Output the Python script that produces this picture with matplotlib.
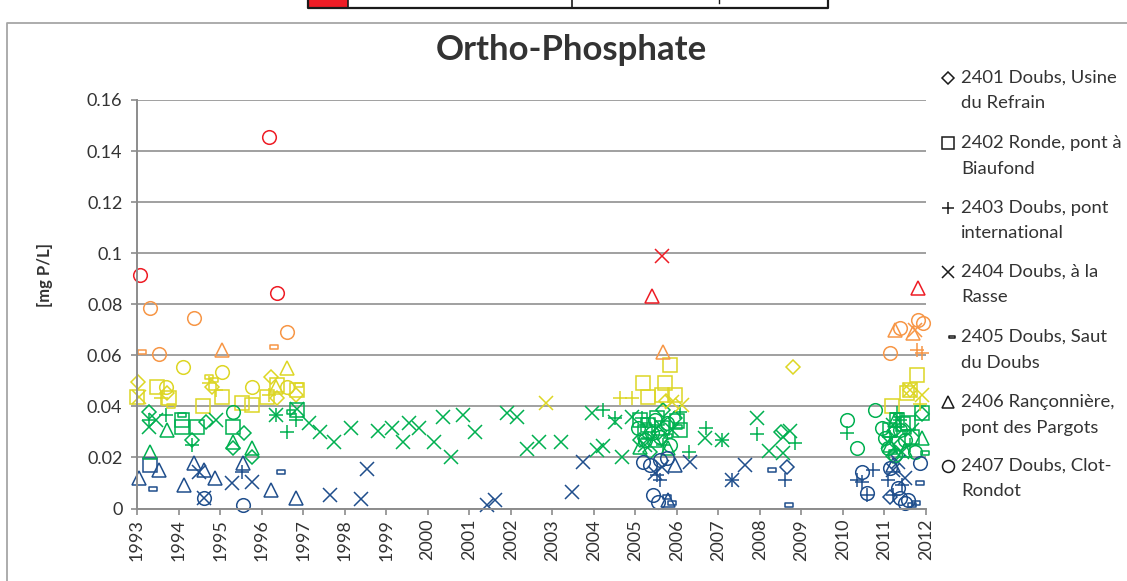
import matplotlib
matplotlib.use("Agg")
import matplotlib.pyplot as plt
from matplotlib.lines import Line2D
from matplotlib.patches import Rectangle
from matplotlib.path import Path

plt.rcParams['font.family'] = ['Lato', 'DejaVu Sans']

W, H = 1127, 581

# ---------------- data: ortho-phosphate [mg P/L] per station ----------------
s2401_year = [1993.02, 1993.72, 1993.29, 1994.66, 1994.33, 1994.81, 1995.58, 1995.31, 1995.77,
              1996.23, 1996.38, 1996.83,
              2005.75, 2005.11, 2005.35, 2005.54, 2005.66, 2005.95,
              2008.50, 2008.65, 2008.80,
              2011.62, 2011.91, 2011.25, 2011.37, 2011.20, 2011.13]
s2401_val = [0.0496, 0.0453, 0.0378, 0.0339, 0.0269, 0.0476, 0.0296, 0.0237, 0.0202,
             0.0516, 0.0433, 0.0445,
             0.0420, 0.0269, 0.0222, 0.0296, 0.0386, 0.0355,
             0.0300, 0.0163, 0.0555,
             0.0465, 0.0370, 0.0308, 0.0249, 0.0205, 0.0045]

s2402_year = [1993.31, 1993.00, 1993.48, 1993.77, 1994.09, 1994.09, 1994.45, 1994.59, 1995.05,
              1995.53, 1995.77, 1995.31, 1996.13, 1996.38, 1996.86, 1996.86,
              2005.83, 2005.18, 2005.71, 2005.30, 2005.64, 2005.95,
              2005.11, 2005.30, 2005.52, 2005.23, 2005.64, 2006.00, 2006.07,
              2011.78, 2011.55, 2011.62, 2011.18,
              2011.30, 2011.45, 2011.57, 2011.13, 2011.91, 2011.66]
s2402_val = [0.0171, 0.0437, 0.0476, 0.0433, 0.0347, 0.0320, 0.0320, 0.0402, 0.0437,
             0.0414, 0.0405, 0.0320, 0.0437, 0.0484, 0.0465, 0.0386,
             0.0563, 0.0492, 0.0492, 0.0437, 0.0445, 0.0445,
             0.0347, 0.0327, 0.0355, 0.0300, 0.0316, 0.0343, 0.0308,
             0.0524, 0.0453, 0.0465, 0.0402,
             0.0347, 0.0331, 0.0335, 0.0308, 0.0375, 0.0280]

s2403_year = [1993.58, 1993.29, 1993.70, 1994.33, 1994.74, 1994.90, 1995.53, 1996.18, 1996.35,
              1996.83, 1996.62,
              2004.22, 2004.62, 2004.91, 2004.50, 2005.30, 2005.66, 2006.07, 2005.15,
              2005.52, 2005.59, 2006.30, 2006.71,
              2007.08, 2007.33, 2007.93, 2008.60, 2008.85,
              2010.10, 2010.34, 2010.73, 2010.58, 2010.46,
              2011.78, 2011.91, 2011.86, 2011.13, 2011.37, 2011.62, 2011.30,
              2011.20, 2011.08, 2011.42]
s2403_val = [0.0433, 0.0347, 0.0367, 0.0249, 0.0492, 0.0465, 0.0143, 0.0445, 0.0367,
             0.0347, 0.0300,
             0.0386, 0.0433, 0.0433, 0.0355, 0.0276, 0.0249, 0.0378, 0.0355,
             0.0131, 0.0112, 0.0222, 0.0316,
             0.0269, 0.0112, 0.0290, 0.0112, 0.0257,
             0.0296, 0.0112, 0.0151, 0.0053, 0.0104,
             0.0622, 0.0610, 0.0410, 0.0280, 0.0347, 0.0249, 0.0375,
             0.0053, 0.0112, 0.0092]

s2404_year = [1993.05, 1993.29, 1993.46, 1994.90, 1994.50, 1994.62, 1995.29, 1995.77, 1996.35,
              1996.86, 1997.15, 1997.40, 1997.75, 1998.16, 1998.80, 1999.15, 1999.40, 1999.56,
              1999.78, 2000.16, 2000.38, 2000.57, 2000.84, 2001.15, 2001.90, 2002.14, 2002.38,
              2002.67, 2002.86, 2003.20, 2003.95, 2004.07,
              1998.55, 1997.65, 1998.40, 2001.44, 2001.63, 2003.73, 2003.47,
              2004.50, 2004.91, 2004.21, 2004.67, 2005.64, 2005.88, 2006.12, 2005.23, 2005.59,
              2005.88, 2006.31, 2005.47, 2005.64,
              2006.67, 2007.08, 2007.33, 2007.64, 2007.93, 2008.22, 2008.72, 2008.55, 2008.55,
              2011.74, 2011.62, 2011.90, 2011.08, 2011.42, 2011.66, 2011.20, 2011.20, 2011.50,
              2011.33]
s2404_val = [0.0437, 0.0320, 0.0347, 0.0347, 0.0143, 0.0041, 0.0100, 0.0104, 0.0367,
             0.0390, 0.0335, 0.0300, 0.0261, 0.0316, 0.0304, 0.0316, 0.0261, 0.0335,
             0.0316, 0.0261, 0.0359, 0.0202, 0.0367, 0.0300, 0.0375, 0.0359, 0.0233,
             0.0261, 0.0414, 0.0261, 0.0375, 0.0229,
             0.0155, 0.0053, 0.0037, 0.0014, 0.0033, 0.0182, 0.0065,
             0.0339, 0.0359, 0.0245, 0.0202, 0.0990, 0.0418, 0.0405, 0.0249, 0.0327,
             0.0308, 0.0182, 0.0139, 0.0163,
             0.0276, 0.0269, 0.0112, 0.0171, 0.0355, 0.0225, 0.0304, 0.0218, 0.0280,
             0.0700, 0.0465, 0.0445, 0.0260, 0.0222, 0.0308, 0.0327, 0.0151, 0.0120,
             0.0182]

s2405_year = [1993.12, 1993.39, 1993.82, 1994.09, 1994.74, 1994.86, 1996.30, 1996.47, 1996.91,
              1996.71,
              2005.27, 2005.78, 2006.02, 2005.88, 2005.76,
              2008.28, 2008.70,
              2011.33, 2011.55, 2011.98, 2011.20, 2011.86, 2011.66, 2011.76]
s2405_val = [0.0614, 0.0076, 0.0402, 0.0367, 0.0516, 0.0504, 0.0633, 0.0143, 0.0484,
             0.0378,
             0.0327, 0.0284, 0.0320, 0.0022, 0.0045,
             0.0151, 0.0014,
             0.0367, 0.0300, 0.0218, 0.0220, 0.0100, 0.0014, 0.0022]

s2406_year = [1995.05, 1996.62, 1993.72, 1993.31, 1995.31, 1995.77, 1996.35,
              1993.05, 1993.53, 1994.13, 1994.37, 1994.62, 1994.88, 1995.56, 1996.23, 1996.83,
              2005.66, 2005.41, 2005.11, 2005.78, 2005.47, 2005.95, 2005.78,
              2011.80, 2011.25, 2011.69, 2011.91, 2011.25, 2011.50, 2011.13, 2011.20]
s2406_val = [0.0622, 0.0551, 0.0308, 0.0222, 0.0261, 0.0237, 0.0476,
             0.0120, 0.0151, 0.0092, 0.0178, 0.0151, 0.0120, 0.0178, 0.0073, 0.0041,
             0.0614, 0.0831, 0.0241, 0.0237, 0.0269, 0.0171, 0.0033,
             0.0865, 0.0700, 0.0688, 0.0276, 0.0347, 0.0229, 0.0250, 0.0171]

s2407_year = [1993.07, 1996.18, 1996.38, 1993.31, 1994.37, 1993.53, 1996.62, 1994.11, 1995.05,
              1993.70, 1995.77, 1996.62, 1995.31, 1994.62, 1995.56,
              2005.06, 2005.23, 2005.39, 2005.59, 2005.76, 2005.83, 2005.47,
              2005.18, 2005.35, 2005.76, 2005.59, 2005.42, 2005.54,
              2010.10, 2010.34, 2010.77, 2010.46, 2010.58,
              2011.13, 2011.37, 2011.80, 2011.92,
              2011.01, 2011.08, 2011.25, 2011.50, 2011.74, 2011.37, 2010.94,
              2011.86, 2011.33, 2011.50, 2011.37, 2011.57, 2011.13]
s2407_val = [0.0916, 0.1457, 0.0845, 0.0786, 0.0747, 0.0606, 0.0692, 0.0555, 0.0535,
             0.0476, 0.0476, 0.0476, 0.0378, 0.0041, 0.0014,
             0.0316, 0.0269, 0.0296, 0.0280, 0.0335, 0.0249, 0.0347,
             0.0182, 0.0171, 0.0196, 0.0190, 0.0053, 0.0025,
             0.0347, 0.0237, 0.0386, 0.0143, 0.0061,
             0.0610, 0.0708, 0.0739, 0.0727,
             0.0276, 0.0237, 0.0210, 0.0269, 0.0222, 0.0308, 0.0316,
             0.0178, 0.0080, 0.0022, 0.0041, 0.0033, 0.0159]

station_labels = ["2401 Doubs, Usine\ndu Refrain",
                  "2402 Ronde, pont à\nBiaufond",
                  "2403 Doubs, pont\ninternational",
                  "2404 Doubs, à la\nRasse",
                  "2405 Doubs, Saut\ndu Doubs",
                  "2406 Rançonnière,\npont des Pargots",
                  "2407 Doubs, Clot-\nRondot"]

year_ticks = list(range(1993, 2013))
value_ticks = [0, 0.02, 0.04, 0.06, 0.08, 0.1, 0.12, 0.14, 0.16]
value_tick_labels = ["0", "0.02", "0.04", "0.06", "0.08", "0.1", "0.12", "0.14", "0.16"]

# quality classes (upper bounds) and their colours
class_bounds = [0.02, 0.04, 0.06, 0.08]
class_colors = ["#1F4E8C", "#00B050", "#DDD624", "#F79646", "#EE1C25"]

# ---------------- styling ----------------
dash_marker = Path([(-1, -0.42), (1, -0.42), (1, 0.42), (-1, 0.42), (-1, -0.42)],
                   [Path.MOVETO, Path.LINETO, Path.LINETO, Path.LINETO, Path.CLOSEPOLY])
series = [
    (s2401_year, s2401_val, "D", 7.0),
    (s2402_year, s2402_val, "s", 9.8),
    (s2403_year, s2403_val, "+", 10.0),
    (s2404_year, s2404_val, "x", 9.4),
    (s2405_year, s2405_val, dash_marker, 5.8),
    (s2406_year, s2406_val, "^", 10.0),
    (s2407_year, s2407_val, "o", 9.8),
]


def value_color(v):
    for bound, col in zip(class_bounds, class_colors):
        if v < bound:
            return col
    return class_colors[-1]


def fx(px):
    return px / W


def fy(py):
    return 1 - py / H


fig = plt.figure(figsize=(W / 100, H / 100), dpi=100)

# outer chart frame (left and top edges visible)
fig.add_artist(Line2D([fx(7), fx(7), fx(1127)], [fy(600), fy(23), fy(23)],
                      transform=fig.transFigure, color="#A6A6A6", lw=1.3))

# strip of the table above the chart
fig.add_artist(Rectangle((fx(308), fy(7.5)), fx(40), 10 / H, transform=fig.transFigure,
                         fc="#EE1C25", ec="none"))
fig.add_artist(Line2D([fx(308), fx(308), fx(828), fx(828)], [fy(-2), fy(8), fy(8), fy(-2)],
                      transform=fig.transFigure, color="#1a1a1a", lw=1.6))
fig.add_artist(Line2D([fx(348), fx(348)], [fy(-2), fy(8)], transform=fig.transFigure,
                      color="#1a1a1a", lw=1.2))
fig.add_artist(Line2D([fx(572), fx(572)], [fy(-2), fy(8)], transform=fig.transFigure,
                      color="#1a1a1a", lw=1.2))
fig.add_artist(Line2D([fx(719), fx(719)], [fy(-2), fy(3)], transform=fig.transFigure,
                      color="#1a1a1a", lw=1.0))

ax = fig.add_axes([fx(137), fy(508.5), fx(926 - 137), (508.5 - 100) / H])

for years, vals, marker, ms in series:
    groups = {}
    for yr, v in zip(years, vals):
        groups.setdefault(value_color(v), ([], []))
        groups[value_color(v)][0].append(yr)
        groups[value_color(v)][1].append(v)
    for col, (gx, gy) in groups.items():
        ax.plot(gx, gy, linestyle="none", marker=marker, markersize=ms,
                mfc="none", mec=col, mew=1.1, clip_on=False)

ax.set_xlim(1993, 2012)
ax.set_ylim(0, 0.16)
ax.set_yticks(value_ticks)
ax.set_yticklabels(value_tick_labels)
ax.set_xticks(year_ticks)
ax.set_xticklabels([str(y) for y in year_ticks], rotation=90)
ax.grid(axis="y", color="#999999", lw=1.3)
ax.set_axisbelow(True)
for side in ("top", "right"):
    ax.spines[side].set_visible(False)
for side in ("left", "bottom"):
    ax.spines[side].set_color("#8C8C8C")
    ax.spines[side].set_linewidth(1.4)
ax.tick_params(axis="both", colors="#8C8C8C", labelcolor="#333333", labelsize=13,
               direction="out", length=4.5, width=1.2)
ax.tick_params(axis="y", pad=6)
ax.tick_params(axis="x", pad=3)

fig.text(fx(45), fy(275), "[mg P/L]", rotation=90, ha="center", va="center",
         fontsize=12, fontweight="bold", color="#333333")
fig.text(fx(571), fy(50), "Ortho-Phosphate", ha="center", va="center",
         fontsize=25, fontweight="bold", color="#333333")

# legend (black symbols, two-line labels)
leg_markers = ["D", "s", "+", "x", dash_marker, "^", "o"]
leg_sizes = [6.0, 8.4, 9.0, 8.4, 5.0, 8.8, 8.6]
leg_y = [78, 143, 208, 272, 337, 402, 466]
for lab, mk, ms, yy in zip(station_labels, leg_markers, leg_sizes, leg_y):
    mx = 952 if mk is dash_marker else 948
    fig.add_artist(Line2D([fx(mx)], [fy(yy)], transform=fig.transFigure, marker=mk,
                          markersize=ms, mfc="none", mec="#1a1a1a", mew=1.1, linestyle="none"))
    line1, line2 = lab.split("\n")
    fig.text(fx(961), fy(yy), line1, ha="left", va="center", fontsize=13.3, color="#333333")
    fig.text(fx(961), fy(yy + 25.5), line2, ha="left", va="center", fontsize=13.3, color="#333333")

fig.savefig("out.png", dpi=100)
